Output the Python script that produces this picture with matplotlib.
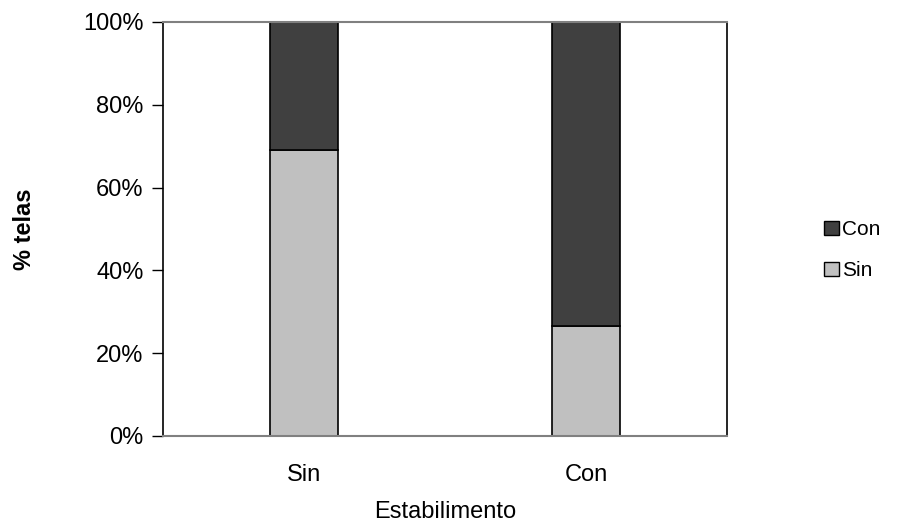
import numpy as np
import matplotlib.pyplot as plt
from matplotlib.patches import Patch

plt.rcParams['font.family'] = ['Liberation Sans', 'DejaVu Sans']

categorias = ["Sin", "Con"]
pct_sin = [69.0, 26.5]
pct_con = [31.0, 73.5]
yticks = [0, 20, 40, 60, 80, 100]

col_sin = "#c0c0c0"
col_con = "#404040"

fig = plt.figure(figsize=(8.98, 5.27), dpi=100)
ax = fig.add_axes([163/898, 1 - 436/527, (727 - 163)/898, (436 - 22)/527])

x = np.arange(len(categorias))
ax.bar(x, pct_sin, width=0.24, color=col_sin, edgecolor="black", linewidth=1.2)
ax.bar(x, pct_con, width=0.24, bottom=pct_sin, color=col_con, edgecolor="black", linewidth=1.2)

ax.set_xlim(-0.5, 1.5)
ax.set_ylim(0, 100)
ax.set_yticks(yticks)
ax.set_yticklabels([f"{v}%" for v in yticks], fontsize=17)
ax.set_xticks(x)
ax.set_xticklabels(categorias, fontsize=17)
ax.tick_params(axis="x", length=0, pad=20)
ax.tick_params(axis="y", length=8, width=1, pad=6)

for s in ["top", "bottom"]:
    ax.spines[s].set_color("#808080")
    ax.spines[s].set_linewidth(1.5)
for s in ["left", "right"]:
    ax.spines[s].set_color("black")
    ax.spines[s].set_linewidth(1.2)

ax.set_xlabel("Estabilimento", fontsize=17, labelpad=11)
ax.set_ylabel("% telas", fontsize=17, fontweight="bold", labelpad=34)

handles = [Patch(facecolor=col_con, edgecolor="black"),
           Patch(facecolor=col_sin, edgecolor="black")]
fig.legend(handles, ["Con", "Sin"], loc="center left", bbox_to_anchor=(0.897, 0.525),
           frameon=False, fontsize=15, handlelength=0.7, handleheight=0.7,
           handletextpad=0.15, labelspacing=1.05)

fig.savefig("out.png", dpi=100)
